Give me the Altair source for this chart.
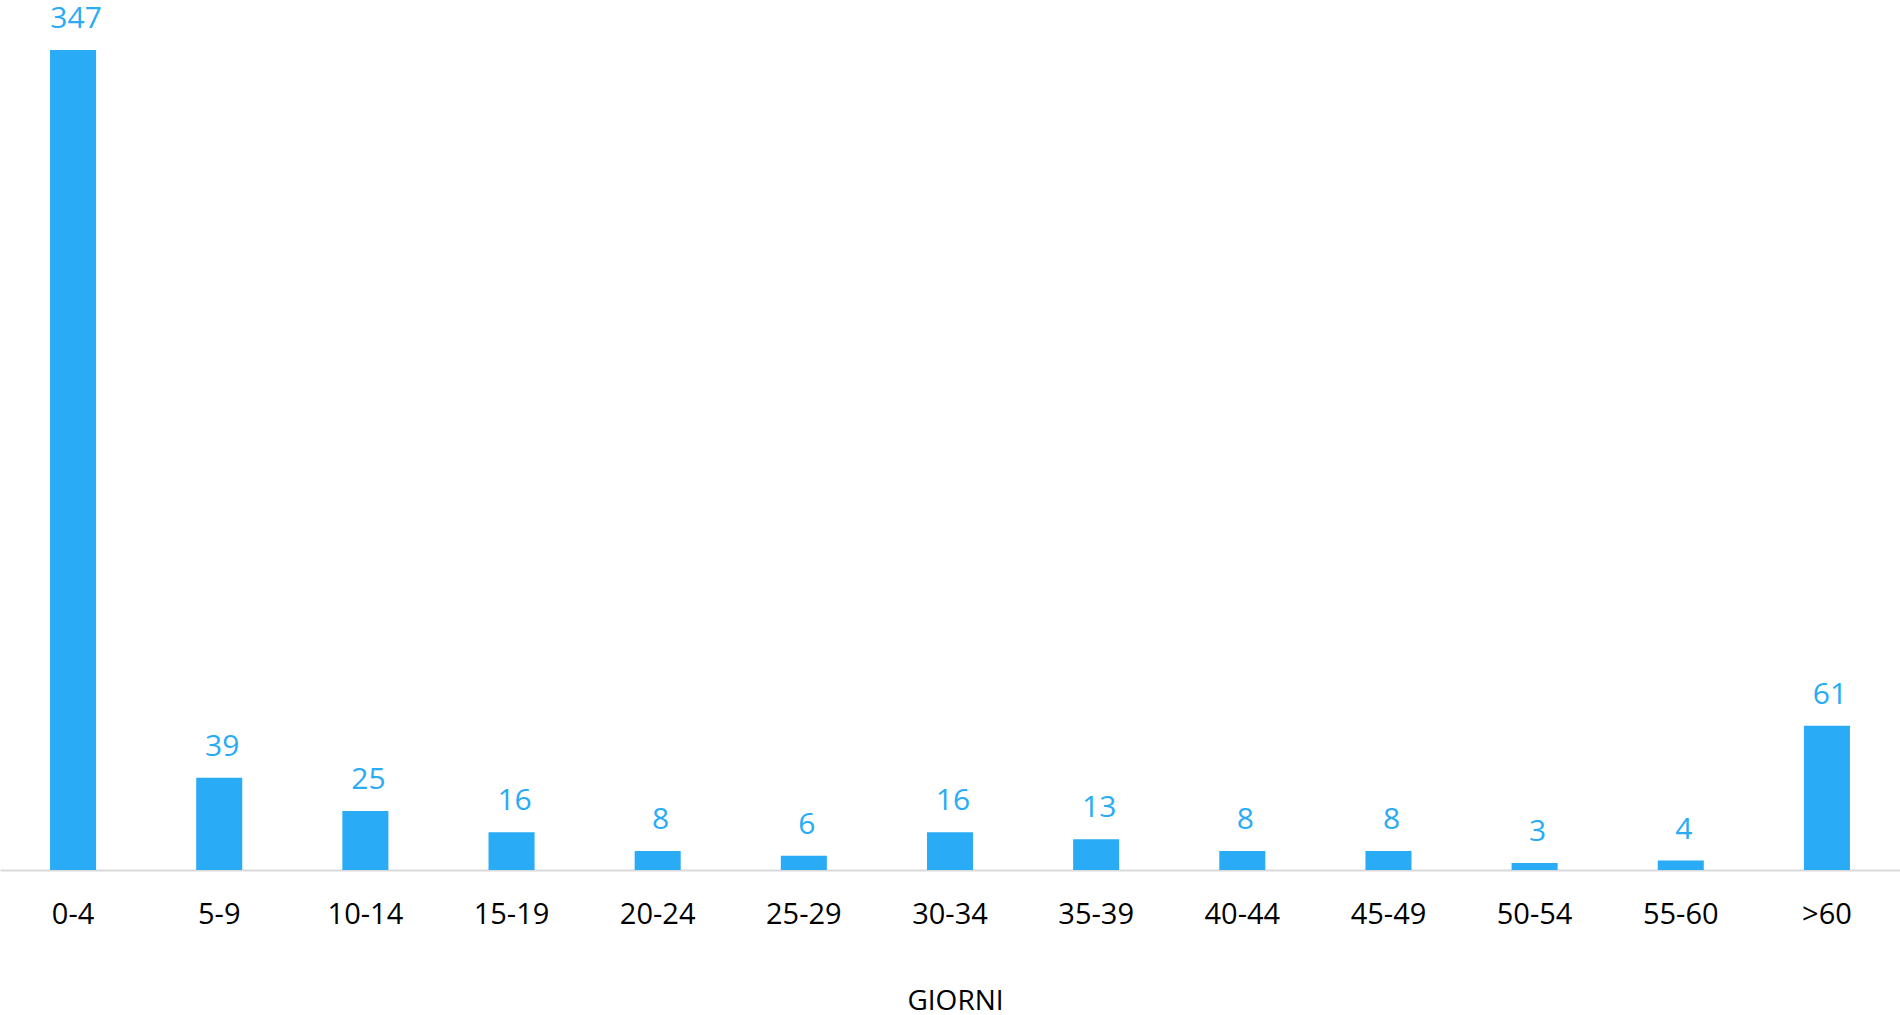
import altair as alt
import pandas as pd

categories = ["0-4", "5-9", "10-14", "15-19", "20-24", "25-29", "30-34",
              "35-39", "40-44", "45-49", "50-54", "55-60", ">60"]
values = [347, 39, 25, 16, 8, 6, 16, 13, 8, 8, 3, 4, 61]

df = pd.DataFrame({"cat": categories, "val": values})

COLOR = "#29abf5"
FONT = "Open Sans"

x = alt.X("cat:N", sort=categories,
          scale=alt.Scale(paddingInner=0.685, paddingOuter=0.3425),
          axis=alt.Axis(title="GIORNI", labelAngle=0, ticks=False, tickSize=0,
                        domainColor="#d9d9d9", domainWidth=2,
                        labelFont=FONT, labelFontSize=29, labelColor="#000000",
                        labelBaseline="alphabetic", labelPadding=53,
                        titleFont=FONT, titleFontSize=28, titleFontWeight="normal",
                        titleColor="#000000", titleBaseline="alphabetic",
                        titleY=139, titleX=955, titleAnchor="middle",
                        grid=False))
y = alt.Y("val:Q", scale=alt.Scale(domain=[0, 347], nice=False, zero=True), axis=None)

bars = alt.Chart(df).mark_bar(color=COLOR).encode(x=x, y=y)
labels = alt.Chart(df).mark_text(color=COLOR, font=FONT, fontSize=30,
                                 baseline="alphabetic", dy=-22, dx=3).encode(
    x=alt.X("cat:N", sort=categories), y="val:Q", text="val:Q")

chart = (bars + labels).properties(
    width=1900, height=820,
    padding={"left": 0, "right": 0, "top": 50, "bottom": 145},
    autosize=alt.AutoSizeParams(type="none"),
    background="white",
).configure_view(stroke=None)

chart.save("out.html", embed_options={"renderer": "svg", "actions": False})
